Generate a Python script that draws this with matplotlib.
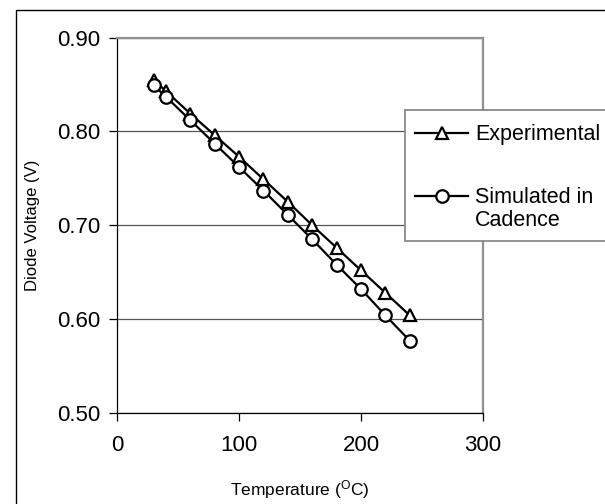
import matplotlib
matplotlib.use("Agg")
import matplotlib.pyplot as plt
from matplotlib.patches import Rectangle
from matplotlib.lines import Line2D

temps = [30, 40, 60, 80, 100, 120, 140, 160, 180, 200, 220, 240]
experimental = [0.855, 0.843, 0.819, 0.796, 0.773, 0.749, 0.725, 0.700, 0.676, 0.652, 0.628, 0.604]
simulated = [0.849, 0.837, 0.812, 0.787, 0.762, 0.737, 0.711, 0.685, 0.658, 0.632, 0.604, 0.577]
xticks = [0, 100, 200, 300]
yticks = [0.50, 0.60, 0.70, 0.80, 0.90]
labels = ["Experimental", "Simulated in\nCadence"]
markers = ['^', 'o']

plt.rcParams['font.family'] = ['Liberation Sans', 'DejaVu Sans']

W, H = 605, 504
fig = plt.figure(figsize=(W / 100, H / 100), dpi=100)

def fx(px):
    return px / W

def fy(py):
    return 1 - py / H

# outer frame
fig.patches.append(Rectangle((fx(16), fy(530)), fx(700), fy(10) - fy(530),
                             transform=fig.transFigure, fill=False,
                             edgecolor='black', linewidth=1.0, zorder=0))

left, right, top, bottom = 117, 483, 37.5, 413
ax = fig.add_axes([fx(left), fy(bottom), fx(right) - fx(left), fy(top) - fy(bottom)])

for ys, mk in zip([experimental, simulated], markers):
    ax.plot(temps, ys, color='black', lw=1.6, marker=mk, ms=9,
            mfc='white', mec='black', mew=1.6, zorder=3)

ax.set_xlim(0, 300)
ax.set_ylim(0.5, 0.9)
ax.set_xticks(xticks)
ax.set_yticks(yticks)
ax.set_yticklabels([f"{v:.2f}" for v in yticks])
ax.set_xticklabels([str(v) for v in xticks])
ax.tick_params(direction='out', length=5.5, width=0.9, labelsize=16, pad=6.5)
ax.tick_params(axis='x', pad=10)
ax.yaxis.grid(True, color='#555555', linewidth=0.9)
ax.set_axisbelow(True)

for s in ['left', 'bottom']:
    ax.spines[s].set_color('black')
    ax.spines[s].set_linewidth(0.9)
for s in ['top', 'right']:
    ax.spines[s].set_color('#909090')
    ax.spines[s].set_linewidth(1.6)

ax.set_xlabel("Temperature ($\\mathregular{^{O}}$C)", fontsize=12.5, labelpad=16)
ax.set_ylabel("Diode Voltage (V)", fontsize=12, labelpad=12)

# legend box (overflows figure on the right, as in the original)
fig.patches.append(Rectangle((fx(405), fy(241)), fx(700) - fx(405), fy(110) - fy(241),
                             transform=fig.transFigure, facecolor='white',
                             edgecolor='#808080', linewidth=1.2, zorder=5))
for mk, yy, lab in zip(markers, [133, 196], labels):
    fig.lines.append(Line2D([fx(415), fx(468)], [fy(yy), fy(yy)], transform=fig.transFigure,
                            color='black', lw=1.6, zorder=6))
    fig.lines.append(Line2D([fx(442)], [fy(yy)], transform=fig.transFigure, marker=mk,
                            ms=9, mfc='white', mec='black', mew=1.6, color='black', zorder=7))
    fig.text(fx(475), fy(yy - 9), lab, fontsize=15.5, va='top', ha='left',
             linespacing=1.15, zorder=8)

fig.savefig("out.png", dpi=100)
